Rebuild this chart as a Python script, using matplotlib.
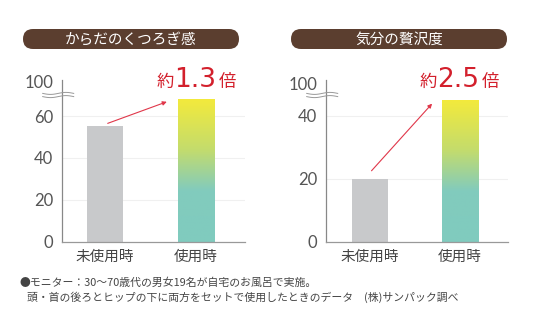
import numpy as np
import matplotlib.pyplot as plt
from matplotlib.colors import LinearSegmentedColormap
from matplotlib.patches import FancyBboxPatch

plt.rcParams['font.family'] = ['Noto Sans CJK JP', 'DejaVu Sans']

# データ
categories = ['未使用時', '使用時']
titles = ['からだのくつろぎ感', '気分の贅沢度']
values_left = [55, 68]
values_right = [20, 45]
ratio_left = '1.3'
ratio_right = '2.5'
yticks_left = [0, 20, 40, 60]
yticks_right = [0, 20, 40]
top_label = '100'
note1 = '●モニター：30〜70歳代の男女19名が自宅のお風呂で実施。'
note2 = '頭・首の後ろとヒップの下に両方をセットで使用したときのデータ　(株)サンパック調べ'

W, H = 536, 327
brown = '#5b3e2f'
red = '#d3202c'
grey_bar = '#c8c9cb'
txt_grey = '#555555'
grad = LinearSegmentedColormap.from_list(
    'grad', [(0, '#80cbbf'), (0.36, '#82cbbd'), (0.65, '#c4dc6c'), (1, '#f3ea3c')])

fig = plt.figure(figsize=(W / 100, H / 100), dpi=100)
fig.patch.set_facecolor('white')


def px_axes(x0, y0, x1, y1):
    # 左上原点のピクセル座標で軸を作る
    return fig.add_axes([x0 / W, (H - y1) / H, (x1 - x0) / W, (y1 - y0) / H])


def draw_chart(ax, vals, yticks, ymax, top_pos, xlim):
    xs = np.arange(len(vals))
    bars = ax.bar(xs, vals, width=0.4, color=[grey_bar, 'none'], zorder=2)
    b = bars[1]
    im = ax.imshow(np.linspace(0, 1, 256).reshape(-1, 1), cmap=grad, origin='lower',
                   extent=[b.get_x(), b.get_x() + b.get_width(), 0, b.get_height()],
                   aspect='auto', zorder=2)
    im.set_clip_path(b)
    ax.set_xlim(*xlim)
    ax.set_ylim(0, ymax)
    for t in yticks[1:]:
        ax.axhline(t, color='#f0f0f0', lw=0.8, zorder=1)
    ax.set_yticks(yticks + [top_pos])
    ax.set_yticklabels([str(t) for t in yticks] + [top_label],
                       fontsize=12, color=txt_grey, family=['Lato', 'DejaVu Sans'])
    ax.set_xticks(xs)
    ax.set_xticklabels(categories, fontsize=10.5, color='#444444')
    ax.tick_params(length=0)
    ax.tick_params(axis='y', pad=6)
    ax.tick_params(axis='x', pad=6)
    for s in ['top', 'right']:
        ax.spines[s].set_visible(False)
    ax.spines['left'].set_color('#888888')
    ax.spines['bottom'].set_color('#999999')
    ax.spines['left'].set_linewidth(0.9)
    ax.spines['bottom'].set_linewidth(0.9)
    ax.set_facecolor('none')
    return xs


ax1 = px_axes(61.7, 80, 245, 241.7)
xs1 = draw_chart(ax1, values_left, yticks_left, 77.2, 76.3, (-0.476, 1.54))
ax1.annotate('', xy=(xs1[1] - 0.32, values_left[1] - 1.2),
             xytext=(xs1[0] + 0.03, values_left[0] + 1.5),
             arrowprops=dict(arrowstyle='-|>', color='#e0374a', lw=0.8,
                             mutation_scale=6, shrinkA=0, shrinkB=0))

ax2 = px_axes(325.7, 80, 508, 241.7)
xs2 = draw_chart(ax2, values_right, yticks_right, 51.3, 50.2, (-0.487, 1.53))
ax2.annotate('', xy=(xs2[1] - 0.31, values_right[1] - 1.2),
             xytext=(xs2[0] + 0.02, values_right[0] + 2.5),
             arrowprops=dict(arrowstyle='-|>', color='#e0374a', lw=0.8,
                             mutation_scale=6, shrinkA=0, shrinkB=0))

# 見出し・倍率・注記用の全面レイヤー
ov = fig.add_axes([0, 0, 1, 1])
ov.set_xlim(0, W)
ov.set_ylim(H, 0)
ov.axis('off')
ov.patch.set_alpha(0)

for (x0, x1), title in zip([(23, 239), (291, 507)], titles):
    ov.add_patch(FancyBboxPatch((x0, 29), x1 - x0, 20,
                                boxstyle='round,pad=0,rounding_size=10',
                                fc=brown, ec='none'))
    ov.text((x0 + x1) / 2, 39.5, title, color='white', fontsize=10.5,
            ha='center', va='center')

for x0, ratio in [(157, ratio_left), (420, ratio_right)]:
    ov.text(x0, 87, '約', color=red, fontsize=12.5, ha='left', va='baseline')
    ov.text(x0 + 17, 87, ratio, color=red, fontsize=19, ha='left', va='baseline',
            family=['DejaVu Sans'])
    ov.text(x0 + 62, 87, '倍', color=red, fontsize=12.5, ha='left', va='baseline')

# 軸の省略記号
for ax_x in [61.7, 325.7]:
    t = np.linspace(ax_x - 19, ax_x + 12, 60)
    wave = 1.0 * np.sin((t - t[0]) / 31 * 2 * np.pi)
    for dy in (-1.6, 1.6):
        ov.plot(t, 95 + dy + wave, color='#999999', lw=0.7)

ov.text(19, 283, note1, fontsize=7.8, color='#444444', ha='left', va='center')
ov.text(27, 297, note2, fontsize=7.8, color='#444444', ha='left', va='center')

fig.savefig('out.png', dpi=100)
